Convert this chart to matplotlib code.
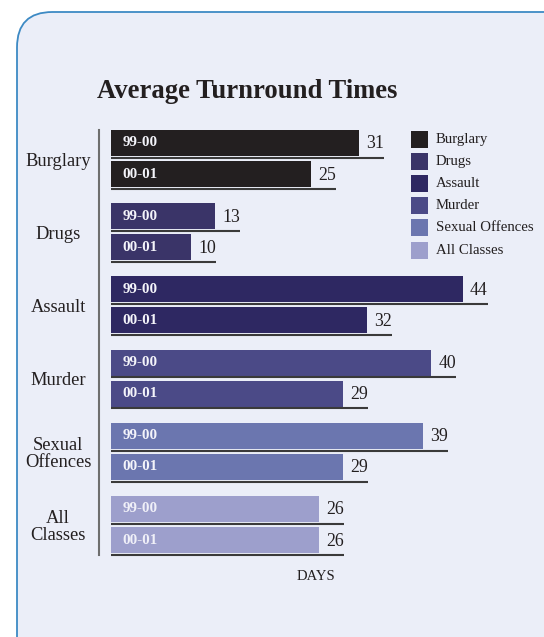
import numpy as np
import matplotlib.pyplot as plt
from matplotlib.patches import FancyBboxPatch, Rectangle

# ----------------------------------------------------------------------
#     data
# ----------------------------------------------------------------------
categories = ["Burglary", "Drugs", "Assault", "Murder", "Sexual\nOffences", "All\nClasses"]
legend_names = ["Burglary", "Drugs", "Assault", "Murder", "Sexual Offences", "All Classes"]
periods = ["99-00", "00-01"]
days_9900 = [31, 13, 44, 40, 39, 26]
days_0001 = [25, 10, 32, 29, 29, 26]
colors = ["#231f20", "#3a3468", "#2e2862", "#4b4a87", "#6b76af", "#9d9fcc"]

W, H = 544, 637
SERIF = ["Liberation Serif", "DejaVu Serif"]
plt.rcParams['font.family'] = SERIF

fig = plt.figure(figsize=(W / 100, H / 100), dpi=100)
fig.patch.set_facecolor("white")


def px(x, y):
    # pixel coords (top-left origin) -> figure fraction
    return x / W, 1 - y / H


# rounded background panel
panel = FancyBboxPatch((17 / W, -0.2), 1.2, 1 - 12 / H + 0.2,
                       boxstyle="round,pad=0,rounding_size=0.065",
                       transform=fig.transFigure, facecolor="#ebeef8",
                       edgecolor="#3d8ac4", linewidth=1.3, zorder=-5,
                       mutation_aspect=W / H)
fig.patches.append(panel)

fig.text(*px(97, 91), "Average Turnround Times", fontsize=19.2, fontweight="bold",
         ha="left", va="center", color="#231f20")

# ----------------------------------------------------------------------
#     bar axes : 8 px per day, x=0 at pixel 111
# ----------------------------------------------------------------------
y_top, y_bot = 120, 560
g0, gstep = 158.5, 73.2
x0, xpx = 111, 8.0
xmax = 50
ax = fig.add_axes([x0 / W, 1 - y_bot / H, xmax * xpx / W, (y_bot - y_top) / H])
ax.set_zorder(2)
ax.set_xlim(0, xmax)
ax.set_ylim((y_bot - g0) / gstep, -(g0 - y_top) / gstep)
ax.axis("off")

off = 15.5 / gstep
bh = 26 / gstep
gpos = np.arange(len(categories))
for k, (vals, lab) in enumerate(zip([days_9900, days_0001], periods)):
    yc = gpos + (k * 2 - 1) * off
    ax.barh(yc, vals, height=bh, color=colors, zorder=2)
    for y, v, c in zip(yc, vals, colors):
        yb = y + bh / 2 + 1.8 / gstep
        ax.plot([0, v + 3.1], [yb, yb], color="#3a3a3a", lw=1.5, zorder=2,
                solid_capstyle="butt")
        ax.text(v + 3.1, y + 1.0 / gstep, str(v), ha="right", va="center",
                fontsize=12.8, color="#231f20")
        tc = "#f4f4fa" if c != colors[-1] else "#f0f0f8"
        ax.text(1.45, y, lab, ha="left", va="center", fontsize=10.8,
                fontweight="bold", color=tc, zorder=3)

# vertical axis line
ax.plot([-1.5, -1.5], [(130 - g0) / gstep, (555 - g0) / gstep], color="#6e6e6e",
        lw=1.5, clip_on=False)

for g, name in zip(gpos, categories):
    ax.text(-6.6, g + 2.5 / gstep, name, ha="center", va="center", fontsize=13.3,
            color="#231f20", linespacing=1.0, clip_on=False)

fig.text(*px(316, 576), "DAYS", fontsize=10.5, ha="center", va="center", color="#231f20")

# legend
for i, (name, c) in enumerate(zip(legend_names, colors)):
    yy = 139 + i * 22.2
    fig.patches.append(Rectangle(px(411, yy + 8.5), 17 / W, 17 / H,
                                 transform=fig.transFigure, facecolor=c,
                                 edgecolor="none"))
    fig.text(*px(436, yy), name, fontsize=10.6, ha="left", va="center", color="#231f20")

fig.savefig("out.png", dpi=100, facecolor=fig.get_facecolor())
